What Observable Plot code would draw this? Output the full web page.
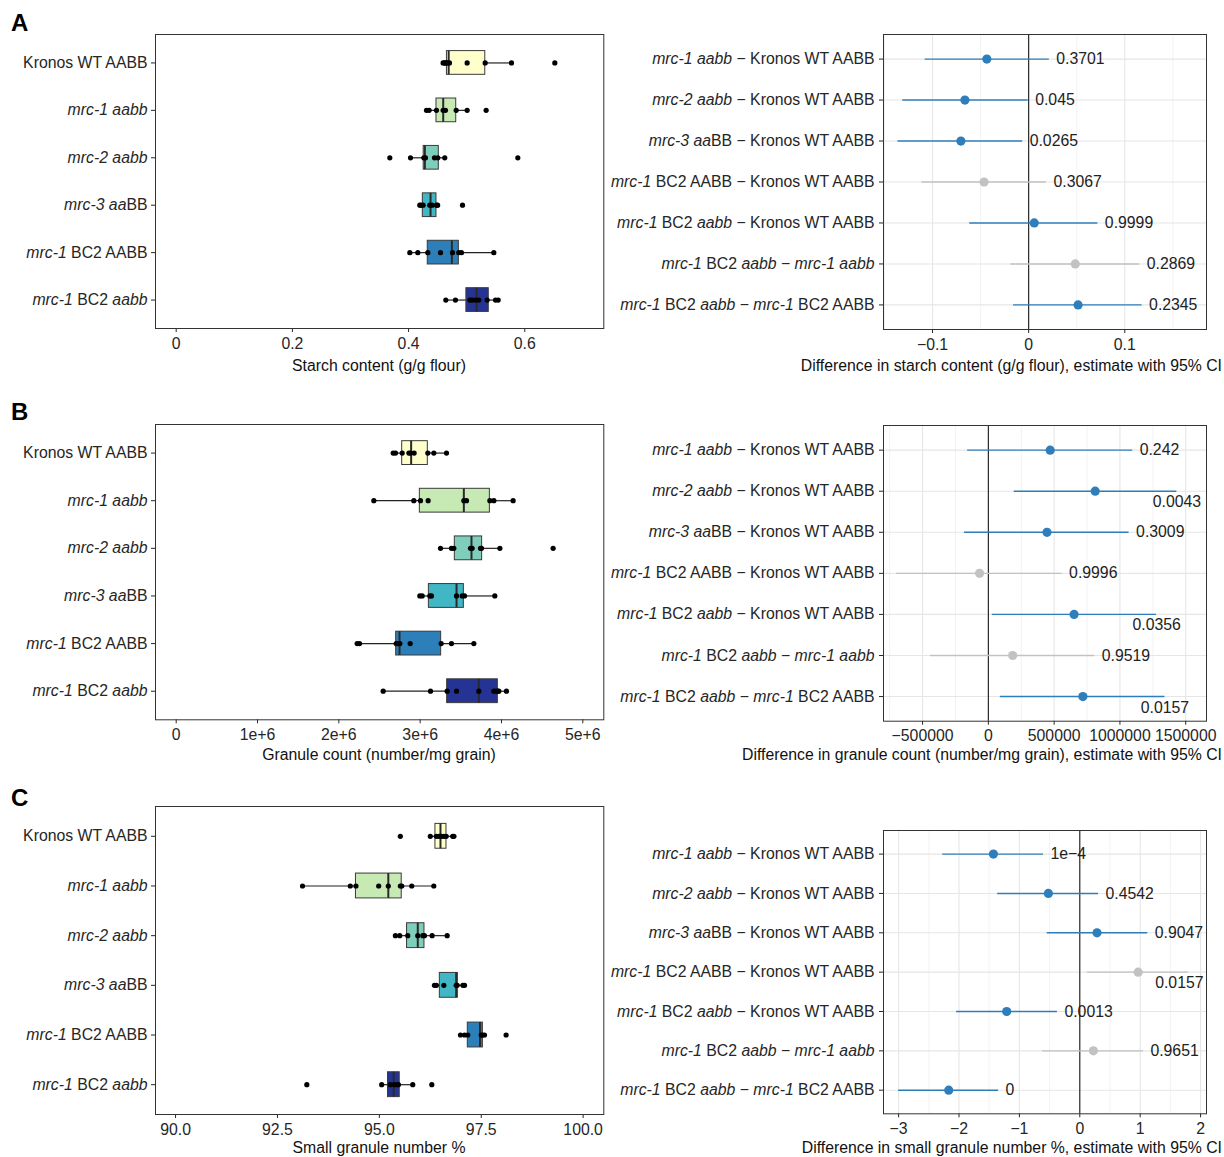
<!DOCTYPE html>
<html>
<head>
<meta charset="utf-8">
<script src="https://cdn.jsdelivr.net/npm/d3@7"></script>
<script src="https://cdn.jsdelivr.net/npm/@observablehq/plot@0.6"></script>
<style>
  html, body { margin: 0; padding: 0; background: #fff; }
  #fig { position: relative; width: 1224px; height: 1157px; background: #fff; overflow: hidden;
         font-family: 'Liberation Sans', Arial, Helvetica, sans-serif; }
  #fig svg { position: absolute; }
  #fig svg text { font-family: 'Liberation Sans', Arial, Helvetica, sans-serif !important; font-size: 15.8px !important; }
  .lbl { position: absolute; font-size: 15.8px; color: #111; white-space: nowrap; line-height: 1; }
  .letter { position: absolute; font-size: 24px; font-weight: bold; color: #000; line-height: 1; }
</style>
</head>
<body>
<div id="fig"></div>
<script>
// ---------------- categories ----------------
const groupLabels = ["Kronos WT AABB", "*mrc-1 aabb*", "*mrc-2 aabb*", "*mrc-3 aa*BB", "*mrc-1* BC2 AABB", "*mrc-1* BC2 *aabb*"];
const groupColors = ["#FFFFCC", "#C7E9B4", "#7FCDBB", "#41B6C4", "#2C7FB8", "#253494"];
const contrastLabels = [
  "*mrc-1 aabb* − Kronos WT AABB",
  "*mrc-2 aabb* − Kronos WT AABB",
  "*mrc-3 aa*BB − Kronos WT AABB",
  "*mrc-1* BC2 AABB − Kronos WT AABB",
  "*mrc-1* BC2 *aabb* − Kronos WT AABB",
  "*mrc-1* BC2 *aabb* − *mrc-1 aabb*",
  "*mrc-1* BC2 *aabb* − *mrc-1* BC2 AABB"
];
const contrastColorKey = ["sig", "sig", "sig", "ns", "sig", "ns", "sig"];

// ---------------- Panel A: starch content ----------------
const starchQ1  = [0.466, 0.448, 0.426, 0.4245, 0.433, 0.4995];
const starchMed = [0.469, 0.4596, 0.428, 0.4378, 0.4745, 0.517];
const starchQ3  = [0.532, 0.482, 0.452, 0.448, 0.4865, 0.538];
const starchLo  = [0.459, 0.431, 0.403, 0.419, 0.402, 0.464];
const starchHi  = [0.577, 0.501, 0.462, 0.451, 0.547, 0.554];
const starchPoints = [
  [0.4594, 0.4617, 0.4635, 0.4652, 0.4675, 0.4704, 0.5008, 0.5318, 0.5771, 0.6517],
  [0.4308, 0.4354, 0.448, 0.4595, 0.4635, 0.4819, 0.5008, 0.5335],
  [0.3677, 0.4033, 0.4262, 0.4291, 0.4446, 0.4503, 0.4623, 0.588],
  [0.4193, 0.4216, 0.425, 0.4365, 0.4405, 0.448, 0.450, 0.4928],
  [0.4021, 0.4159, 0.4331, 0.4549, 0.4755, 0.4864, 0.491, 0.5467],
  [0.4641, 0.4807, 0.5054, 0.5094, 0.5151, 0.5209, 0.5352, 0.5496, 0.5542]
];
const starchTicks = [0, 0.2, 0.4, 0.6];
const starchDiffEst = [-0.0435, -0.0663, -0.0705, -0.0464, 0.0058, 0.0485, 0.0514];
const starchDiffLo  = [-0.1077, -0.131, -0.136, -0.111, -0.0613, -0.0186, -0.0157];
const starchDiffHi  = [0.0215, -0.0005, -0.0062, 0.0186, 0.072, 0.1156, 0.118];
const starchP = ["0.3701", "0.045", "0.0265", "0.3067", "0.9999", "0.2869", "0.2345"];
const starchDiffTicks = [-0.1, 0, 0.1];
const starchDiffGrid = [-0.15, -0.1, -0.05, 0, 0.05, 0.1, 0.15];

// ---------------- Panel B: granule count ----------------
const countQ1  = [2.779e6, 2.996e6, 3.426e6, 3.107e6, 2.705e6, 3.332e6];
const countMed = [2.889e6, 3.537e6, 3.631e6, 3.447e6, 2.746e6, 3.721e6];
const countQ3  = [3.094e6, 3.857e6, 3.762e6, 3.537e6, 3.258e6, 3.955e6];
const countLo  = [2.668e6, 2.430e6, 3.250e6, 2.996e6, 2.225e6, 2.545e6];
const countHi  = [3.324e6, 4.143e6, 3.980e6, 3.918e6, 3.660e6, 4.061e6];
const countPoints = [
  [2.668e6, 2.697e6, 2.779e6, 2.861e6, 2.881e6, 2.926e6, 3.094e6, 3.168e6, 3.324e6],
  [2.430e6, 2.922e6, 3.004e6, 3.098e6, 3.537e6, 3.570e6, 3.857e6, 3.906e6, 4.143e6],
  [3.250e6, 3.385e6, 3.414e6, 3.619e6, 3.639e6, 3.742e6, 3.754e6, 3.980e6, 4.635e6],
  [2.996e6, 3.025e6, 3.119e6, 3.139e6, 3.447e6, 3.516e6, 3.545e6, 3.918e6],
  [2.225e6, 2.254e6, 2.705e6, 2.725e6, 2.750e6, 2.877e6, 3.258e6, 3.385e6, 3.660e6],
  [2.545e6, 3.127e6, 3.332e6, 3.447e6, 3.721e6, 3.906e6, 3.934e6, 3.955e6, 3.967e6, 4.061e6]
];
const countTicks = [0, 1e6, 2e6, 3e6, 4e6, 5e6];
const countDiffEst = [469700, 812100, 445500, -66700, 651500, 184800, 718200];
const countDiffLo  = [-157600, 197000, -181800, -697000, 30300, -439400, 90900];
const countDiffHi  = [1097000, 1433000, 1069700, 560600, 1278800, 809100, 1342400];
const countP = ["0.242", "0.0043", "0.3009", "0.9996", "0.0356", "0.9519", "0.0157"];
const countDiffTicks = [-500000, 0, 500000, 1000000, 1500000];
const countDiffGrid = [-750000, -500000, -250000, 0, 250000, 500000, 750000, 1000000, 1250000, 1500000];

// ---------------- Panel C: small granule number % ----------------
const smallQ1  = [96.376, 94.426, 95.680, 96.484, 97.170, 95.213];
const smallMed = [96.500, 95.220, 95.943, 96.885, 97.470, 95.352];
const smallQ3  = [96.647, 95.549, 96.107, 96.926, 97.540, 95.500];
const smallLo  = [96.250, 93.115, 95.393, 96.352, 96.990, 95.057];
const smallHi  = [96.820, 96.336, 96.664, 97.049, 97.580, 95.820];
const smallPoints = [
  [95.515, 96.25, 96.40, 96.46, 96.52, 96.58, 96.64, 96.80, 96.83],
  [93.115, 94.287, 94.426, 94.984, 95.22, 95.516, 95.55, 95.795, 96.336],
  [95.393, 95.50, 95.697, 95.943, 96.066, 96.107, 96.295, 96.664],
  [96.352, 96.40, 96.582, 96.885, 96.91, 97.049, 97.09],
  [96.99, 97.09, 97.17, 97.50, 97.53, 97.58, 98.11],
  [93.221, 95.057, 95.27, 95.37, 95.45, 95.467, 95.82, 96.287]
];
const smallTicks = [90, 92.5, 95, 97.5, 100];
const smallDiffEst = [-1.43, -0.52, 0.285, 0.967, -1.21, 0.225, -2.17];
const smallDiffLo  = [-2.27, -1.36, -0.54, 0.126, -2.04, -0.616, -3.0];
const smallDiffHi  = [-0.60, 0.31, 1.126, 1.80, -0.37, 1.053, -1.344];
const smallP = ["1e−4", "0.4542", "0.9047", "0.0157", "0.0013", "0.9651", "0"];
const smallDiffTicks = [-3, -2, -1, 0, 1, 2];
const smallDiffGrid = [-3, -2.5, -2, -1.5, -1, -0.5, 0, 0.5, 1, 1.5, 2];

// ---------------- helpers ----------------
const FS = 15.8;
const INK = "#262626";
const minus = s => String(s).replace("-", "−");
const fig = document.getElementById("fig");

function styleItalics(svg) {
  svg.querySelectorAll("text").forEach(t => {
    const s = t.textContent;
    if (!s.includes("*")) return;
    const parts = s.split("*");
    while (t.firstChild) t.removeChild(t.firstChild);
    parts.forEach((p, k) => {
      if (!p) return;
      const ts = document.createElementNS("http://www.w3.org/2000/svg", "tspan");
      ts.textContent = p;
      if (k % 2 === 1) ts.setAttribute("font-style", "italic");
      t.appendChild(ts);
    });
  });
}

function place(svg, left, top) {
  svg.style.left = left + "px";
  svg.style.top = top + "px";
  styleItalics(svg);
  fig.appendChild(svg);
}

function addLabel(text, x, y, anchor, cls = "lbl") {
  const d = document.createElement("div");
  d.className = cls;
  d.textContent = text;
  d.style.left = x + "px";
  d.style.top = y + "px";
  const tx = anchor === "middle" ? "-50%" : anchor === "end" ? "-100%" : "0";
  d.style.transform = `translate(${tx}, -50%)`;
  fig.appendChild(d);
}

function boxPanel({domain, ticks, fmt, q1, med, q3, lo, hi, points, height, top, mt, mb}) {
  const table = groupLabels.map((g, i) => ({i, q1: q1[i], med: med[i], q3: q3[i], lo: lo[i], hi: hi[i], color: groupColors[i]}));
  const pts = points.flatMap((arr, i) => arr.map(v => ({i, v})));
  const svg = Plot.plot({
    width: 610, height,
    marginLeft: 155, marginRight: 6.7, marginTop: mt, marginBottom: mb,
    style: {fontFamily: "'Liberation Sans', Arial, sans-serif", fontSize: FS + "px", color: INK, background: "transparent"},
    x: {domain, ticks, tickFormat: fmt, tickSize: 4, tickPadding: 5, label: null},
    y: {domain: [5.6, -0.6], ticks: [0, 1, 2, 3, 4, 5], tickFormat: i => groupLabels[i], tickSize: 4, tickPadding: 4, label: null},
    marks: [
      Plot.ruleY(table, {y: "i", x1: "lo", x2: "q1", stroke: "#222", strokeWidth: 1.2}),
      Plot.ruleY(table, {y: "i", x1: "q3", x2: "hi", stroke: "#222", strokeWidth: 1.2}),
      Plot.rect(table, {x1: "q1", x2: "q3", y1: d => d.i - 0.25, y2: d => d.i + 0.25, fill: "color", stroke: "#3a3a3a", strokeWidth: 1}),
      Plot.ruleX(table, {x: "med", y1: d => d.i - 0.25, y2: d => d.i + 0.25, stroke: "#2a2a2a", strokeWidth: 2}),
      Plot.dot(pts, {x: "v", y: "i", r: 2.6, fill: "#000", stroke: null}),
      Plot.frame({stroke: "#333", strokeWidth: 1})
    ]
  });
  place(svg, 0, top);
}

function textWidth(s) {
  let w = 0;
  for (const c of s) w += (c === "." ? 0.278 : c === "−" ? 0.584 : 0.556);
  return w * FS;
}

function forestPanel({domain, ticks, fmt, grid, est, lo, hi, p, height, top, mt, mb}) {
  const W = 624, ML = 283, MR = 18;
  const fw = W - ML - MR;
  const k = fw / (domain[1] - domain[0]);
  const rows = est.map((e, i) => {
    const w = textWidth(p[i]);
    const below = (hi[i] - domain[0]) * k + 7 + w > fw - 2;
    const lx = below ? Math.min(hi[i], domain[1] - (w / 2 + 3) / k) : hi[i];
    return {i, est: e, lo: lo[i], hi: hi[i], p: p[i], below, lx,
            color: contrastColorKey[i] === "sig" ? "#2f7ebc" : "#c2c2c2"};
  });
  const major = new Set(ticks);
  const svg = Plot.plot({
    width: W, height,
    marginLeft: ML, marginRight: MR, marginTop: mt, marginBottom: mb,
    style: {fontFamily: "'Liberation Sans', Arial, sans-serif", fontSize: FS + "px", color: INK, background: "transparent"},
    x: {domain, ticks, tickFormat: fmt, tickSize: 4, tickPadding: 5, label: null},
    y: {domain: [6.6, -0.6], ticks: [0, 1, 2, 3, 4, 5, 6], tickFormat: i => contrastLabels[i], tickSize: 4, tickPadding: 5, label: null},
    marks: [
      Plot.ruleX(grid.filter(g => !major.has(g)), {stroke: "#f0f0f0", strokeWidth: 0.8}),
      Plot.ruleX(grid.filter(g => major.has(g)), {stroke: "#e6e6e6", strokeWidth: 1.1}),
      Plot.ruleY([0, 1, 2, 3, 4, 5, 6], {stroke: "#e6e6e6", strokeWidth: 1.1}),
      Plot.ruleX([0], {stroke: "#1a1a1a", strokeWidth: 1.1}),
      Plot.ruleY(rows, {y: "i", x1: "lo", x2: "hi", stroke: "color", strokeWidth: 1.4}),
      Plot.dot(rows, {x: "est", y: "i", r: 4.6, fill: "color", stroke: null}),
      Plot.text(rows.filter(d => !d.below), {x: "hi", y: "i", text: "p", dx: 7, textAnchor: "start", fill: "#222", fontSize: FS}),
      Plot.text(rows.filter(d => d.below), {x: "lx", y: "i", text: "p", dy: 11, textAnchor: "middle", fill: "#222", fontSize: FS}),
      Plot.frame({stroke: "#333", strokeWidth: 1})
    ]
  });
  place(svg, 600, top);
}

// ---------------- build panels ----------------
boxPanel({domain: [-0.0356, 0.736], ticks: starchTicks, fmt: d => String(d),
  q1: starchQ1, med: starchMed, q3: starchQ3, lo: starchLo, hi: starchHi, points: starchPoints,
  height: 356, top: 0, mt: 34, mb: 28});
forestPanel({domain: [-0.151, 0.185], ticks: starchDiffTicks, fmt: d => minus(d), grid: starchDiffGrid,
  est: starchDiffEst, lo: starchDiffLo, hi: starchDiffHi, p: starchP,
  height: 356, top: 0, mt: 34, mb: 27});

boxPanel({domain: [-0.2545e6, 5.258e6], ticks: countTicks, fmt: d => d === 0 ? "0" : (d / 1e6) + "e+6",
  q1: countQ1, med: countMed, q3: countQ3, lo: countLo, hi: countHi, points: countPoints,
  height: 360, top: 385, mt: 39, mb: 25.7});
forestPanel({domain: [-797000, 1658000], ticks: countDiffTicks, fmt: d => minus(d), grid: countDiffGrid,
  est: countDiffEst, lo: countDiffLo, hi: countDiffHi, p: countP,
  height: 360, top: 385, mt: 40, mb: 24.3});

boxPanel({domain: [89.508, 100.507], ticks: smallTicks, fmt: d => d.toFixed(1),
  q1: smallQ1, med: smallMed, q3: smallQ3, lo: smallLo, hi: smallHi, points: smallPoints,
  height: 370, top: 775, mt: 31, mb: 31});
forestPanel({domain: [-3.25, 2.098], ticks: smallDiffTicks, fmt: d => minus(d), grid: smallDiffGrid,
  est: smallDiffEst, lo: smallDiffLo, hi: smallDiffHi, p: smallP,
  height: 370, top: 775, mt: 55, mb: 31.7});

// ---------------- axis titles & panel letters ----------------
addLabel("Starch content (g/g flour)", 379, 366, "middle");
addLabel("Difference in starch content (g/g flour), estimate with 95% CI", 1222, 366, "end");
addLabel("Granule count (number/mg grain)", 379, 755, "middle");
addLabel("Difference in granule count (number/mg grain), estimate with 95% CI", 1222, 755, "end");
addLabel("Small granule number %", 379, 1148, "middle");
addLabel("Difference in small granule number %, estimate with 95% CI", 1222, 1148, "end");
addLabel("A", 11, 23, "start", "letter");
addLabel("B", 11, 412, "start", "letter");
addLabel("C", 11, 798, "start", "letter");
</script>
</body>
</html>
